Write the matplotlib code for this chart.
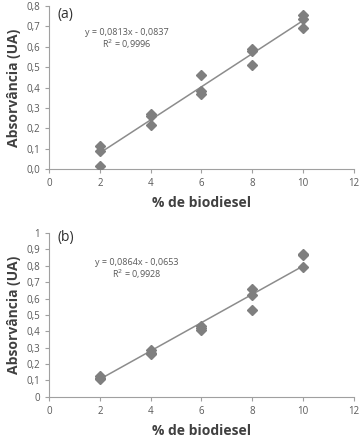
import matplotlib
matplotlib.use("Agg")
import matplotlib.pyplot as plt
import numpy as np

# Panel (a)
conc_a = [2, 2, 2, 4, 4, 4, 6, 6, 6, 8, 8, 8, 10, 10, 10]
abs_a = [0.115, 0.09, 0.015, 0.27, 0.26, 0.215, 0.46, 0.385, 0.37,
         0.59, 0.58, 0.51, 0.755, 0.735, 0.695]
slope_a, icpt_a = 0.0813, -0.0837
eq_a = ["y = 0,0813x - 0,0837", "R$^2$ = 0,9996"]
yticks_a = [0.0, 0.1, 0.2, 0.3, 0.4, 0.5, 0.6, 0.7, 0.8]
ylabels_a = ["0,0", "0,1", "0,2", "0,3", "0,4", "0,5", "0,6", "0,7", "0,8"]

# Panel (b)
conc_b = [2, 2, 2, 4, 4, 4, 6, 6, 6, 8, 8, 8, 10, 10, 10]
abs_b = [0.125, 0.115, 0.11, 0.285, 0.27, 0.26, 0.435, 0.42, 0.41,
         0.66, 0.62, 0.53, 0.87, 0.865, 0.79]
slope_b, icpt_b = 0.0864, -0.0653
eq_b = ["y = 0,0864x - 0,0653", "R$^2$ = 0,9928"]
yticks_b = [0, 0.1, 0.2, 0.3, 0.4, 0.5, 0.6, 0.7, 0.8, 0.9, 1.0]
ylabels_b = ["0", "0,1", "0,2", "0,3", "0,4", "0,5", "0,6", "0,7", "0,8", "0,9", "1"]

xticks = [0, 2, 4, 6, 8, 10, 12]

plt.rcParams["font.family"] = ["Open Sans", "DejaVu Sans"]
GREY = "#7f7f7f"
TXT = "#595959"

fig = plt.figure(figsize=(3.63, 4.38), dpi=100)
ax_a = fig.add_axes([0.135, 0.614, 0.840, 0.372])
ax_b = fig.add_axes([0.135, 0.094, 0.840, 0.374])


def draw(ax, x, y, slope, icpt, eq, yticks, ylabels, tag, tag_y, eq_x, eq_y, dy):
    ax.plot(x, y, "D", color=GREY, markersize=5, zorder=3)
    xs = np.array([min(x), max(x)])
    ax.plot(xs, slope * xs + icpt, color="#8c8c8c", lw=1.1, zorder=2)
    ax.set_xlim(0, 12)
    ax.set_ylim(yticks[0], yticks[-1])
    ax.set_xticks(xticks)
    ax.set_yticks(yticks)
    ax.set_yticklabels(ylabels)
    for s in ["top", "right"]:
        ax.spines[s].set_visible(False)
    for s in ["left", "bottom"]:
        ax.spines[s].set_color("#a0a0a0")
        ax.spines[s].set_linewidth(0.8)
    ax.tick_params(colors="#a0a0a0", labelcolor=TXT, labelsize=7,
                   length=3, width=0.8)
    ax.set_xlabel("% de biodiesel", fontsize=10, fontweight="bold",
                  color="#404040", labelpad=5)
    ax.set_ylabel("Absorvância (UA)", fontsize=10, fontweight="bold",
                  color="#404040", labelpad=4)
    ax.text(0.35, tag_y, tag, fontsize=10, color="#303030", va="center")
    ax.text(eq_x, eq_y, eq[0], fontsize=6.5, color=TXT, ha="center", va="center")
    ax.text(eq_x, eq_y - dy, eq[1], fontsize=6.5, color=TXT, ha="center", va="center")


draw(ax_a, conc_a, abs_a, slope_a, icpt_a, eq_a, yticks_a, ylabels_a,
     "(a)", 0.76, 3.07, 0.672, 0.06)
draw(ax_b, conc_b, abs_b, slope_b, icpt_b, eq_b, yticks_b, ylabels_b,
     "(b)", 0.975, 3.47, 0.817, 0.07)

fig.savefig("out.png", dpi=100)
